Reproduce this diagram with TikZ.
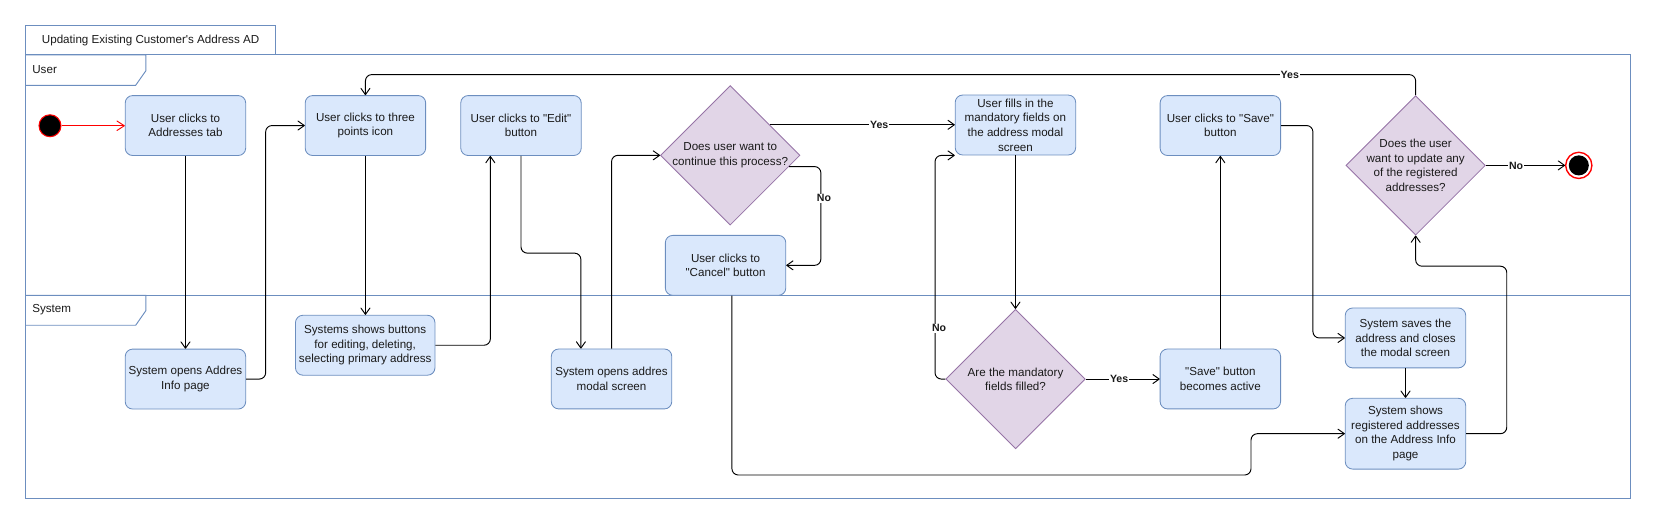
\documentclass[tikz,border=0pt]{standalone}
\usepackage{fontspec}
\setmainfont{Liberation Sans}[Ligatures=TeXOff]
\usetikzlibrary{arrows.meta,shapes.geometric,calc}
\definecolor{boxfill}{HTML}{DAE8FC}
\definecolor{boxline}{HTML}{6C8EBF}
\definecolor{dfill}{HTML}{E1D5E7}
\definecolor{dline}{HTML}{9673A6}
\definecolor{txt}{HTML}{1A1A1A}
\begin{document}
\begin{tikzpicture}[x=1pt,y=-1pt,
  act/.style={rectangle, rounded corners=7pt, draw=boxline, fill=boxfill, line width=0.8pt,
    minimum width=114pt, minimum height=56.7pt, inner sep=0pt, align=center,
    font=\fontsize{11}{13.8}\selectfont, text=txt},
  dec/.style={diamond, draw=dline, fill=dfill, line width=0.8pt, minimum width=132pt,
    minimum height=132pt, inner sep=0pt},
  dtext/.style={align=center, inner sep=0pt, font=\fontsize{11}{13.6}\selectfont, text=txt},
  conn/.style={draw=black, line width=0.9pt, rounded corners=6pt, -{Straight Barb[length=6pt,width=8.5pt,round]}},
  lbl/.style={fill=white, inner sep=1pt, font=\fontsize{10}{12}\selectfont\bfseries, text=txt},
  lane/.style={draw=boxline, line width=0.9pt},
  lanetxt/.style={inner sep=0pt, font=\fontsize{11}{13.8}\selectfont, text=txt}
]
\useasboundingbox (0,0) rectangle (1568,497);
% frame
\draw[lane] (24,23.7) rectangle (261,52);
\node[lanetxt] (title) at (142.5,38) {Updating Existing Customer's Address AD};
\draw[lane] (24,52) rectangle (1543,472);
\draw[lane] (24,279.5) -- (1543,279.5);
\draw[lane] (24,52) -- (138,52) -- (138,67) -- (128.4,80.7) -- (24,80.7);
\node[lanetxt, anchor=west] (userlbl) at (30.4,65.6) {User};
\draw[lane] (24,279.5) -- (138,279.5) -- (138,294) -- (128.4,307.8) -- (24,307.8);
\node[lanetxt, anchor=west] (syslbl) at (30.4,293) {System};

% nodes
\node[circle, fill=black, draw=red, line width=1pt, minimum size=20.8pt, inner sep=0pt] (start) at (47.3,119) {};
\node[act] (A) at (175.5,118.8) {User clicks to\\Addresses tab};
\node[act] (B) at (345.8,118.8) {User clicks to three\\points icon};
\node[act] (C) at (493,118.8) {User clicks to "Edit"\\button};
\node[dec] (d1) at (691,147) {};
\node[dtext] (d1t) at (d1) {Does user want to\\continue this process?};
\node[act] (cancel) at (686.6,251.1) {User clicks to\\"Cancel" button};
\node[act] (F) at (960.9,118.3) {User fills in the\\mandatory fields on\\the address modal\\screen};
\node[act] (Save) at (1154.8,118.8) {User clicks to "Save"\\button};
\node[dec] (d3) at (1339.6,156.5) {};
\node[dtext] (d3t) at (d3) {Does the user\\want to update any\\of the registered\\addresses?};
\node[circle, draw=red, fill=white, line width=1.3pt, minimum size=24.8pt, inner sep=0pt] (endc) at (1494,156.5) {};
\node[circle, fill=black, minimum size=19pt, inner sep=0pt] (endi) at (endc) {};

\node[act] (S1) at (175.5,358.7) {System opens Addres\\Info page};
\node[act, minimum width=132pt] (S2) at (345.6,326.7) {Systems shows buttons\\for editing, deleting,\\selecting primary address};
\node[act] (S3) at (578.7,358.6) {System opens addres\\modal screen};
\node[dec] (d2) at (961,358.7) {};
\node[dtext] (d2t) at (d2) {Are the mandatory\\fields filled?};
\node[act] (SA) at (1154.8,358.6) {"Save" button\\becomes active};
\node[act] (S4) at (1330,319.8) {System saves the\\address and closes\\the modal screen};
\node[act, minimum height=67pt] (S5) at (1330,410.4) {System shows\\registered addresses\\on the Address Info\\page};

% helper coordinates
\coordinate (d1y) at ($(d1.north)!0.565!(d1.east)$);
\coordinate (d1n) at ($(d1.east)!0.16!(d1.south)$);
\coordinate (cw) at (1183.8,449.5);

% connectors
\draw[conn, draw=red, -{Straight Barb[length=7pt,width=9pt,round,color=red]}] (start) -- (A.west |- start);
\draw[conn] (A.south) -- (A.south |- S1.north);
\draw[conn] (S1.east) -- ++(18.5,0) |- (B.west);
\draw[conn] (B.south) -- (B.south |- S2.north);
\draw[conn] (S2.east) -| ([xshift=-29pt]C.south);
\draw[conn] (C.south) -- ++(0,92) -| ([xshift=-29pt]S3.north);
\draw[conn] (S3.north) |- (d1.west);
\draw[conn] (d1y) -- (F.west |- d1y);
\draw[conn] (d1n) -- ++(30,0) |- (cancel.east);
\draw[conn] ([xshift=6pt]cancel.south) |- (cw) |- (S5.west);
\draw[conn] (F.south) -- (F.south |- d2.north);
\draw[conn] (d2.west) -- ++(-9.8,0) |- (F.south west);
\draw[conn] (d2.east) -- (SA.west |- d2.east);
\draw[conn] (SA.north) -- (Save.south);
\draw[conn] (Save.east) -- ++(30.2,0) |- (S4.west);
\draw[conn] (S4.south) -- (S5.north);
\draw[conn] (S5.east) -- ++(38.4,0) |- ($(d3.south)+(0,29)$) -- (d3.south);
\draw[conn] (d3.north) -- ++(0,-19.5) -| (B.north);
\draw[conn] (d3.east) -- (endc.west);

% labels
\node[lbl] (l1) at (832,118.3) {Yes};
\node[lbl] (l2) at (779.7,187.7) {No};
\node[lbl] (l3) at (888.6,310.7) {No};
\node[lbl] (l4) at (1059,358.6) {Yes};
\node[lbl] (l5) at (1220.5,71) {Yes};
\node[lbl] (l6) at (1434.6,156.8) {No};
\end{tikzpicture}
\end{document}
